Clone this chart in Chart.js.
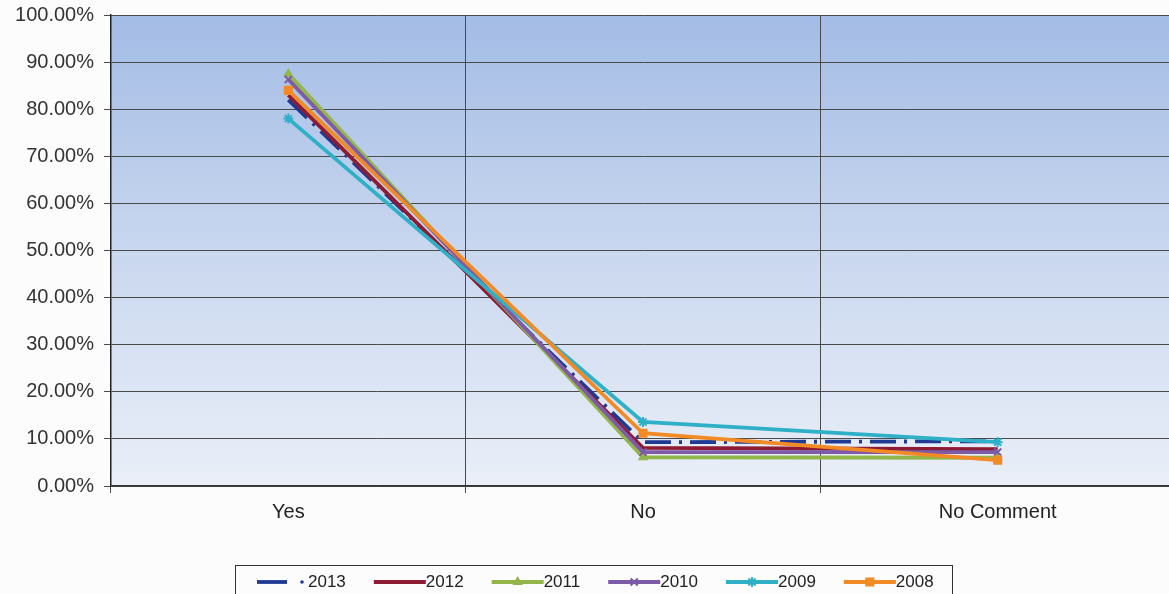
<!DOCTYPE html>
<html>
<head>
<meta charset="utf-8">
<script src="https://cdn.jsdelivr.net/npm/chart.js@4/dist/chart.umd.min.js"></script>
<style>
  html, body { margin: 0; padding: 0; background: #fcfcfc; overflow: hidden; }
  #wrap { width: 1182px; height: 594px; }
</style>
</head>
<body>
<div id="wrap"><canvas id="myChart"></canvas></div>
<script>
var categories = ['Yes', 'No', 'No Comment'];
var years = ['2013', '2012', '2011', '2010', '2009', '2008'];

var values2013 = [82.0, 9.3, 9.5];
var values2012 = [83.0, 8.1, 7.8];
var values2011 = [87.5, 6.1, 6.0];
var values2010 = [86.3, 7.2, 7.2];
var values2009 = [78.0, 13.6, 9.3];
var values2008 = [84.0, 11.2, 5.5];

var yTicks = [0, 10, 20, 30, 40, 50, 60, 70, 80, 90, 100];

var seriesColors = ['#1f3a93', '#8e1b34', '#93b54a', '#7d5ba6', '#2fb0c6', '#f28a25'];
var seriesDash = [[26, 8, 3, 8], [], [], [], [], []];
var seriesPoint = [false, false, 'triangle', 'crossRot', 'star', 'rect'];
var seriesRadius = [0, 0, 4, 5, 5, 5];

var allValues = [values2013, values2012, values2011, values2010, values2009, values2008];

var datasets = years.map(function(y, i) {
    return {
        label: y,
        data: allValues[i],
        borderColor: seriesColors[i],
        backgroundColor: seriesColors[i],
        borderWidth: 3.8,
        borderDash: seriesDash[i],
        pointStyle: seriesPoint[i],
        pointRadius: seriesRadius[i],
        pointBorderWidth: 2,
        tension: 0,
        fill: false,
        order: years.length - i
    };
});

// gradient behind the plot area
var plotBackground = {
    id: 'plotBackground',
    beforeDraw: function(chart) {
        var a = chart.chartArea;
        var ctx = chart.ctx;
        var g = ctx.createLinearGradient(0, a.top, 0, a.bottom);
        g.addColorStop(0, '#a3bce5');
        g.addColorStop(0.5, '#c9d7ef');
        g.addColorStop(1, '#eaeff8');
        ctx.save();
        ctx.fillStyle = g;
        ctx.fillRect(a.left, a.top, a.right - a.left, a.bottom - a.top);
        ctx.restore();
    }
};

// boxed legend under the x axis
var boxLegend = {
    id: 'boxLegend',
    afterDraw: function(chart) {
        var ctx = chart.ctx;
        var left = 235, right = 952, top = 565, cy = 582;
        ctx.save();
        ctx.strokeStyle = '#333';
        ctx.lineWidth = 1;
        ctx.strokeRect(left + 0.5, top + 0.5, right - left, 60);
        ctx.font = '17px "Liberation Sans", Arial, sans-serif';
        ctx.textBaseline = 'middle';
        ctx.fillStyle = '#222';
        var x = 257;
        chart.data.datasets.forEach(function(ds, i) {
            ctx.strokeStyle = ds.borderColor;
            ctx.lineWidth = 3.8;
            ctx.setLineDash([]);
            if (i === 0) {
                ctx.beginPath();
                ctx.moveTo(x, cy);
                ctx.lineTo(x + 30, cy);
                ctx.stroke();
                ctx.fillStyle = ds.borderColor;
                ctx.beginPath();
                ctx.arc(x + 45, cy, 1.8, 0, Math.PI * 2);
                ctx.fill();
                ctx.fillStyle = '#222';
                ctx.fillText(ds.label, x + 51, cy);
                x += 51 + ctx.measureText(ds.label).width + 28;
            } else {
                ctx.beginPath();
                ctx.moveTo(x, cy);
                ctx.lineTo(x + 52, cy);
                ctx.stroke();
                if (ds.pointStyle && Chart.helpers && Chart.helpers.drawPoint) {
                    ctx.lineWidth = 2;
                    ctx.strokeStyle = ds.borderColor;
                    ctx.fillStyle = ds.borderColor;
                    Chart.helpers.drawPoint(ctx, {
                        pointStyle: ds.pointStyle,
                        rotation: 0,
                        borderWidth: 2,
                        radius: ds.pointRadius
                    }, x + 26, cy);
                }
                ctx.fillStyle = '#222';
                ctx.fillText(ds.label, x + 52, cy);
                x += 52 + ctx.measureText(ds.label).width + 28;
            }
        });
        ctx.restore();
    }
};

var ctx = document.getElementById('myChart').getContext('2d');
var myChart = new Chart(ctx, {
    type: 'line',
    data: {
        labels: categories,
        datasets: datasets
    },
    options: {
        responsive: true,
        maintainAspectRatio: false,
        animation: false,
        layout: {
            padding: { top: 15, right: 4, left: 0, bottom: 0 }
        },
        plugins: {
            legend: { display: false },
            tooltip: { enabled: false }
        },
        scales: {
            x: {
                offset: true,
                grid: {
                    offset: true,
                    color: '#4a4a4a',
                    lineWidth: 1,
                    tickLength: 7,
                    drawTicks: true
                },
                border: { color: '#333', width: 1.5 },
                ticks: {
                    color: '#222',
                    padding: 7,
                    font: { family: '"Liberation Sans", Arial, sans-serif', size: 20 }
                },
                afterFit: function(scale) { scale.height = 108; }
            },
            y: {
                min: 0,
                max: 100,
                afterBuildTicks: function(scale) {
                    scale.ticks = yTicks.map(function(v) { return { value: v }; });
                },
                grid: {
                    color: '#4a4a4a',
                    lineWidth: 1,
                    tickLength: 7
                },
                border: { color: '#222', width: 1.5 },
                ticks: {
                    color: '#333',
                    padding: 10,
                    font: { family: '"Liberation Sans", Arial, sans-serif', size: 20 },
                    callback: function(v) { return v.toFixed(2) + '%'; }
                },
                afterFit: function(scale) {
                    scale.width = 111;
                    scale.paddingTop = 0;
                    scale.paddingBottom = 0;
                }
            }
        }
    },
    plugins: [plotBackground, boxLegend]
});
</script>
</body>
</html>
